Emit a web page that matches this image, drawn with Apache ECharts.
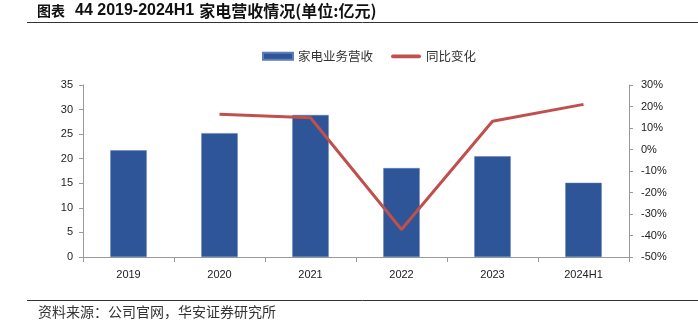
<!DOCTYPE html>
<html><head><meta charset="utf-8">
<script src="https://cdn.jsdelivr.net/npm/echarts@6/dist/echarts.min.js"></script>
<style>html,body{margin:0;padding:0;background:#fff}#c{width:698px;height:322px}</style>
</head><body><div id="c"></div>
<script>
const categories = ['2019','2020','2021','2022','2023','2024H1'];
const revenue = [21.7, 25.2, 28.9, 18.1, 20.5, 15.1];
const yoy = [null, 16.4, 14.8, -37.2, 13.1, 21.0];
const leftTicks = {min: 0, max: 35, interval: 5};
const rightTicks = {min: -50, max: 30, interval: 10};

const chart = echarts.init(document.getElementById('c'));
const axisColor = '#999';
const labelColor = '#222';
const cjk = '"Noto Sans CJK SC", sans-serif';
chart.setOption({
  animation: false,
  title: {
    text: '{a|图表}  {b|44 2019-2024H1} {c|家电营收情况(单位:亿元)}',
    left: 37, top: 2, padding: 0,
    textStyle: {
      lineHeight: 18,
      rich: {
        a: {fontSize: 14, lineHeight: 18, fontWeight: 'bold', color: '#111', fontFamily: cjk},
        b: {fontSize: 16, lineHeight: 18, fontWeight: 'bold', color: '#111', fontFamily: 'Arial, "Liberation Sans", sans-serif'},
        c: {fontSize: 16, lineHeight: 18, fontWeight: 'bold', color: '#111', fontFamily: cjk}
      }
    }
  },
  graphic: [
    {type: 'line', shape: {x1: 27, y1: 22.5, x2: 698, y2: 22.5}, style: {stroke: '#333', lineWidth: 1}},
    {type: 'line', shape: {x1: 27, y1: 300.5, x2: 698, y2: 300.5}, style: {stroke: '#333', lineWidth: 1}},
    {type: 'text', left: 38, top: 305, style: {text: '资料来源：公司官网，华安证券研究所', fill: '#333', font: '14px "Noto Sans CJK SC", sans-serif'}}
  ],
  legend: {
    top: 45, left: 257,
    itemWidth: 30, itemHeight: 7, itemGap: 18,
    textStyle: {fontSize: 12.5, color: '#333', fontFamily: cjk},
    data: [
      {name: '家电业务营收', icon: 'rect'},
      {name: '同比变化', icon: 'path://M2,0 L30,0 A2,2 0 0 1 30,4 L2,4 A2,2 0 0 1 2,0 Z', itemStyle: {color: '#C0504D', borderWidth: 0}}
    ]
  },
  grid: {left: 83, right: 69, top: 85, bottom: 65},
  xAxis: {
    type: 'category', data: categories,
    axisLine: {lineStyle: {color: axisColor}},
    axisTick: {show: true, alignWithLabel: false, length: 5, lineStyle: {color: axisColor}},
    axisLabel: {color: labelColor, fontSize: 11, margin: 12, fontFamily: 'Arial, sans-serif'}
  },
  yAxis: [
    {
      type: 'value', min: leftTicks.min, max: leftTicks.max, interval: leftTicks.interval,
      axisLine: {show: true, lineStyle: {color: axisColor}},
      axisTick: {show: true, length: 4, lineStyle: {color: axisColor}},
      splitLine: {show: false},
      axisLabel: {color: labelColor, fontSize: 11, margin: 10, fontFamily: 'Arial, sans-serif'}
    },
    {
      type: 'value', min: rightTicks.min, max: rightTicks.max, interval: rightTicks.interval,
      position: 'right',
      axisLine: {show: true, lineStyle: {color: axisColor}},
      axisTick: {show: true, length: 4, lineStyle: {color: axisColor}},
      splitLine: {show: false},
      axisLabel: {color: labelColor, fontSize: 11, margin: 12, formatter: '{value}%', fontFamily: 'Arial, sans-serif'}
    }
  ],
  series: [
    {
      name: '家电业务营收', type: 'bar', data: revenue, barWidth: '40%',
      itemStyle: {color: '#2E5597', borderColor: '#5B7DB8', borderWidth: 0.5}
    },
    {
      name: '同比变化', type: 'line', yAxisIndex: 1, data: yoy,
      symbol: 'none', lineStyle: {color: '#C0504D', width: 3},
      itemStyle: {color: '#C0504D'}
    }
  ]
});
</script></body></html>
